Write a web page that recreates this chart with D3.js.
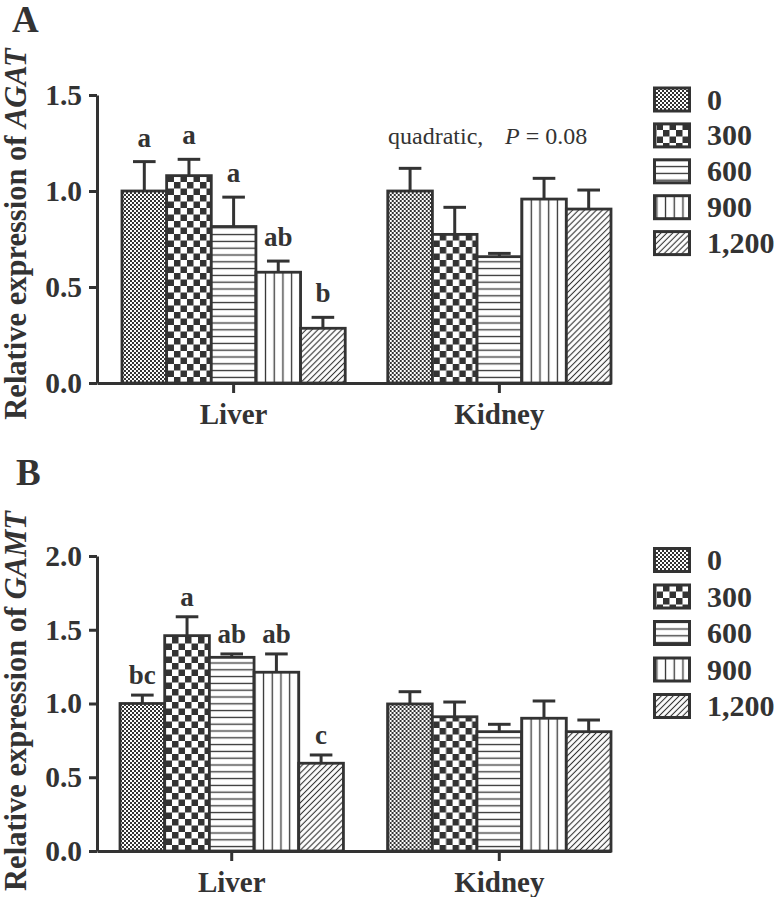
<!DOCTYPE html>
<html><head><meta charset="utf-8">
<script src="https://cdn.jsdelivr.net/npm/d3@7"></script>
<style>
body{margin:0;background:#fff;}
svg text{font-family:"Liberation Serif","Times New Roman",serif;fill:#333;}
</style></head>
<body><svg id="c" width="780" height="897"></svg>
<script>
const categories = ["Liver", "Kidney"];
const doses = ["0", "300", "600", "900", "1,200"];
// Panel A: AGAT
const agatLiver = [1.00, 1.08, 0.815, 0.577, 0.285];
const agatLiverSE = [0.153, 0.085, 0.153, 0.058, 0.057];
const agatKidney = [1.00, 0.774, 0.658, 0.958, 0.906];
const agatKidneySE = [0.118, 0.141, 0.017, 0.108, 0.099];
const agatLetters = ["a", "a", "a", "ab", "b"];
const agatTicks = [0, 0.5, 1.0, 1.5];
// Panel B: GAMT
const gamtLiver = [1.00, 1.46, 1.313, 1.212, 0.595];
const gamtLiverSE = [0.057, 0.128, 0.023, 0.124, 0.056];
const gamtKidney = [0.997, 0.91, 0.809, 0.90, 0.809];
const gamtKidneySE = [0.083, 0.10, 0.05, 0.117, 0.079];
const gamtLetters = ["bc", "a", "ab", "ab", "c"];
const gamtTicks = [0, 0.5, 1.0, 1.5, 2.0];

const C = "#333";
const svg = d3.select("#c");
const defs = svg.append("defs");

// patterns
function pat(id, w, h, draw) {
  const p = defs.append("pattern").attr("id", id).attr("patternUnits", "userSpaceOnUse")
    .attr("width", w).attr("height", h);
  p.append("rect").attr("width", w).attr("height", h).attr("fill", "#fff");
  draw(p);
}
pat("p0", 4, 4, p => {
  p.append("rect").attr("x", 0).attr("y", 0).attr("width", 2).attr("height", 2).attr("fill", C);
  p.append("rect").attr("x", 2).attr("y", 2).attr("width", 2).attr("height", 2).attr("fill", C);
});
pat("p1", 13, 13, p => {
  p.append("rect").attr("x", 0).attr("y", 0).attr("width", 6.5).attr("height", 6.5).attr("fill", C);
  p.append("rect").attr("x", 6.5).attr("y", 6.5).attr("width", 6.5).attr("height", 6.5).attr("fill", C);
});
pat("p2", 10, 6.8, p => {
  p.append("line").attr("x1", 0).attr("x2", 10).attr("y1", 3.4).attr("y2", 3.4).attr("stroke", C).attr("stroke-width", 1.3);
});
pat("p3", 8.7, 10, p => {
  p.append("line").attr("y1", 0).attr("y2", 10).attr("x1", 4.35).attr("x2", 4.35).attr("stroke", C).attr("stroke-width", 1.3);
});
pat("p4", 4.2, 4.2, p => {
  p.attr("patternTransform", "rotate(45)");
  p.append("line").attr("y1", 0).attr("y2", 4.2).attr("x1", 2.1).attr("x2", 2.1).attr("stroke", C).attr("stroke-width", 1.1);
});
const fills = ["url(#p0)", "url(#p1)", "url(#p2)", "url(#p3)", "url(#p4)"];

function panel(cfg) {
  const g = svg.append("g");
  const y = d3.scaleLinear().domain([0, cfg.ymax]).range([cfg.y0, cfg.y1]);
  const x = d3.scaleBand().domain(categories).range([97, 611])
    .paddingInner(cfg.pin).paddingOuter(cfg.pout).align(1);
  const xs = d3.scaleBand().domain(doses).range([0, x.bandwidth()]).padding(0);

  const data = [
    {cat: "Liver", vals: cfg.liver, se: cfg.liverSE, letters: cfg.letters},
    {cat: "Kidney", vals: cfg.kidney, se: cfg.kidneySE, letters: null}
  ];
  data.forEach(d => {
    const gg = g.append("g").attr("transform", `translate(${x(d.cat)},0)`);
    doses.forEach((ds, i) => {
      const v = d.vals[i], e = d.se[i];
      const bx = xs(ds), bw = xs.bandwidth(), cx = bx + bw / 2;
      gg.append("line").attr("x1", cx).attr("x2", cx).attr("y1", y(v)).attr("y2", y(v + e))
        .attr("stroke", C).attr("stroke-width", 3);
      gg.append("line").attr("x1", cx - 11.3).attr("x2", cx + 11.3).attr("y1", y(v + e)).attr("y2", y(v + e))
        .attr("stroke", C).attr("stroke-width", 3);
      gg.append("rect").attr("x", bx).attr("y", y(v)).attr("width", bw).attr("height", y(0) - y(v))
        .attr("fill", fills[i]).attr("stroke", C).attr("stroke-width", 2.8);
      if (d.letters) {
        gg.append("text").attr("x", cx).attr("y", y(v + e) - cfg.loff).attr("text-anchor", "middle")
          .attr("font-size", 27).attr("font-weight", "bold").text(d.letters[i]);
      }
    });
  });

  // y axis
  const ya = g.append("g").attr("transform", "translate(97,0)")
    .call(d3.axisLeft(y).tickValues(cfg.ticks).tickFormat(d3.format(".1f")).tickSize(8).tickSizeOuter(0).tickPadding(7));
  ya.select(".domain").attr("stroke", C).attr("stroke-width", 3);
  ya.selectAll(".tick line").attr("stroke", C).attr("stroke-width", 3);
  ya.selectAll(".tick text").attr("font-size", 29.5).attr("font-weight", "bold").attr("fill", C)
    .style("font-family", '"Liberation Serif",serif');

  // x axis
  const xa = g.append("g").attr("transform", `translate(0,${cfg.y0})`)
    .call(d3.axisBottom(x).tickSize(10).tickSizeOuter(0).tickPadding(10));
  xa.select(".domain").attr("stroke", C).attr("stroke-width", 3);
  xa.selectAll(".tick line").attr("stroke", C).attr("stroke-width", 3);
  xa.selectAll(".tick text").attr("font-size", 29).attr("font-weight", "bold").attr("fill", C)
    .style("font-family", '"Liberation Serif",serif');

  // y title
  const t = g.append("text").attr("transform", `translate(26,${cfg.ymid}) rotate(-90)`)
    .attr("text-anchor", "middle").attr("font-size", 30.5).attr("font-weight", "bold");
  t.append("tspan").text("Relative expression of ");
  t.append("tspan").attr("font-style", "italic").text(cfg.gene);

  // panel letter
  g.append("text").attr("x", cfg.letterX).attr("y", cfg.letterY).attr("font-size", 37).attr("font-weight", "bold").text(cfg.panel);

  // legend
  doses.forEach((ds, i) => {
    const cy = cfg.legY + i * cfg.legStep;
    g.append("rect").attr("x", 654.5).attr("y", cy - 11.5).attr("width", 35).attr("height", 23)
      .attr("fill", fills[i]).attr("stroke", C).attr("stroke-width", 3);
    g.append("text").attr("x", 707).attr("y", cy + 10).attr("font-size", 30).attr("font-weight", "bold").text(ds);
  });
  return {g, x, y};
}

panel({ymax: 1.5, y0: 383, y1: 95, ticks: agatTicks, liver: agatLiver, liverSE: agatLiverSE,
  kidney: agatKidney, kidneySE: agatKidneySE, letters: agatLetters, gene: "AGAT", panel: "A",
  letterX: 12, letterY: 32, ymid: 234, legY: 99.5, legStep: 35.9, loff: 15, pin: 0.16, pout: 0.047});
panel({ymax: 2.0, y0: 851, y1: 556, ticks: gamtTicks, liver: gamtLiver, liverSE: gamtLiverSE,
  kidney: gamtKidney, kidneySE: gamtKidneySE, letters: gamtLetters, gene: "GAMT", panel: "B",
  letterX: 16, letterY: 485, ymid: 701, legY: 560, legStep: 36.5, loff: 11, pin: 0.165, pout: 0.043});

// annotation
const an = svg.append("text").attr("x", 388).attr("y", 144).attr("font-size", 24);
an.append("tspan").text("quadratic,");
an.append("tspan").attr("x", 505).attr("font-style", "italic").text("P");
an.append("tspan").text(" = 0.08");
</script></body></html>
